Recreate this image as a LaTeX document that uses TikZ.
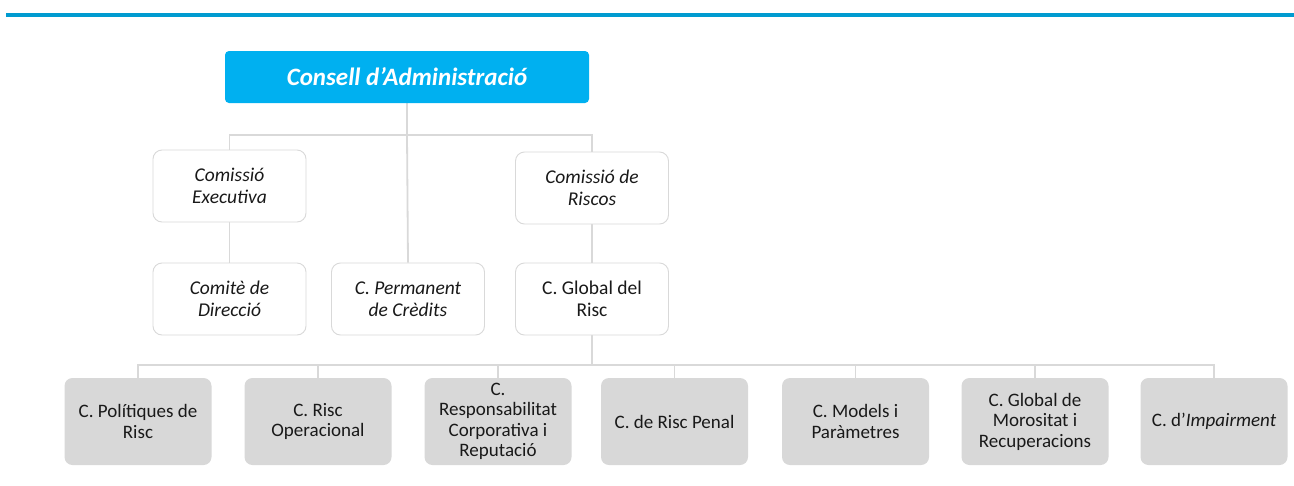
\documentclass[tikz,border=0pt]{standalone}
\usepackage{fontspec}
\setmainfont{Carlito}
\usetikzlibrary{backgrounds}
\definecolor{topblue}{RGB}{0,155,208}
\definecolor{boxblue}{RGB}{0,176,240}
\definecolor{lgray}{RGB}{217,217,217}
\definecolor{bgray}{RGB}{216,216,216}
\definecolor{txt}{RGB}{25,25,25}
\tikzset{
  conn/.style={draw=lgray, line width=1.8pt},
  wbox/.style={draw=lgray, line width=0.9pt, fill=white, rounded corners=9pt,
    minimum width=153pt, minimum height=72pt, inner sep=0pt, align=center,
    font=\fontsize{19.5}{22}\selectfont\itshape, text=txt},
  gbox/.style={fill=bgray, rounded corners=8pt,
    minimum width=147pt, minimum height=87pt, inner sep=0pt, align=center,
    font=\fontsize{19}{20.5}\selectfont, text=txt},
  topbox/.style={fill=boxblue, rounded corners=4pt, minimum width=364pt,
    minimum height=52pt, inner sep=0pt, text=white,
    font=\fontsize{25}{28}\selectfont\bfseries\itshape}
}
\begin{document}
\begin{tikzpicture}[x=1pt,y=-1pt]
\useasboundingbox (0,0) rectangle (1294,485);
\draw[topblue, line width=4pt] (6,15) -- (1294,15);

\node[topbox] (consell) at (407,77) {Consell d’Administració};

\node[wbox] (exec) at (229.5,186) {Comissió\\Executiva};
\node[wbox] (riscos) at (592,188) {Comissió de\\Riscos};
\node[wbox] (direccio) at (229.5,299) {Comitè de\\Direcció};
\node[wbox] (perm) at (408,299) {C. Permanent\\de Crèdits};
\node[wbox,font=\fontsize{19.5}{22}\selectfont] (global) at (592,299) {C. Global del\\Risc};

\node[gbox] (b1) at (138,421.5) {C. Polítiques de\\Risc};
\node[gbox] (b2) at (318,421.5) {C. Risc\\Operacional};
\node[gbox] (b3) at (498,421.5) {C.\\Responsabilitat\\Corporativa i\\Reputació};
\node[gbox] (b4) at (674.5,421.5) {C. de Risc Penal};
\node[gbox] (b5) at (855.5,421.5) {C. Models i\\Paràmetres};
\node[gbox] (b6) at (1035,421.5) {C. Global de\\Morositat i\\Recuperacions};
\node[gbox] (b7) at (1214,421.5) {C. d’\textit{Impairment}};

\coordinate (j1) at (407,135);
\coordinate (j2) at (592,365);

\begin{pgfonlayer}{background}
\fill[white] (0,0) rectangle (1294,485);
\draw[conn] (consell.south) -- (j1);
\draw[conn] (exec.north) -- (exec.north |- j1) -- (riscos.north |- j1) -- (riscos.north);
\draw[conn] (j1) -- (perm.north);
\draw[conn] (exec.south) -- (direccio.north);
\draw[conn] (riscos.south) -- (global.north);
\draw[conn] (global.south) -- (j2);
\draw[conn] (b1.north) -- (b1.north |- j2) -- (b7.north |- j2) -- (b7.north);
\foreach \b in {b2,b3,b4,b5,b6} \draw[conn] (\b.north) -- (\b.north |- j2);
\end{pgfonlayer}
\end{tikzpicture}
\end{document}
